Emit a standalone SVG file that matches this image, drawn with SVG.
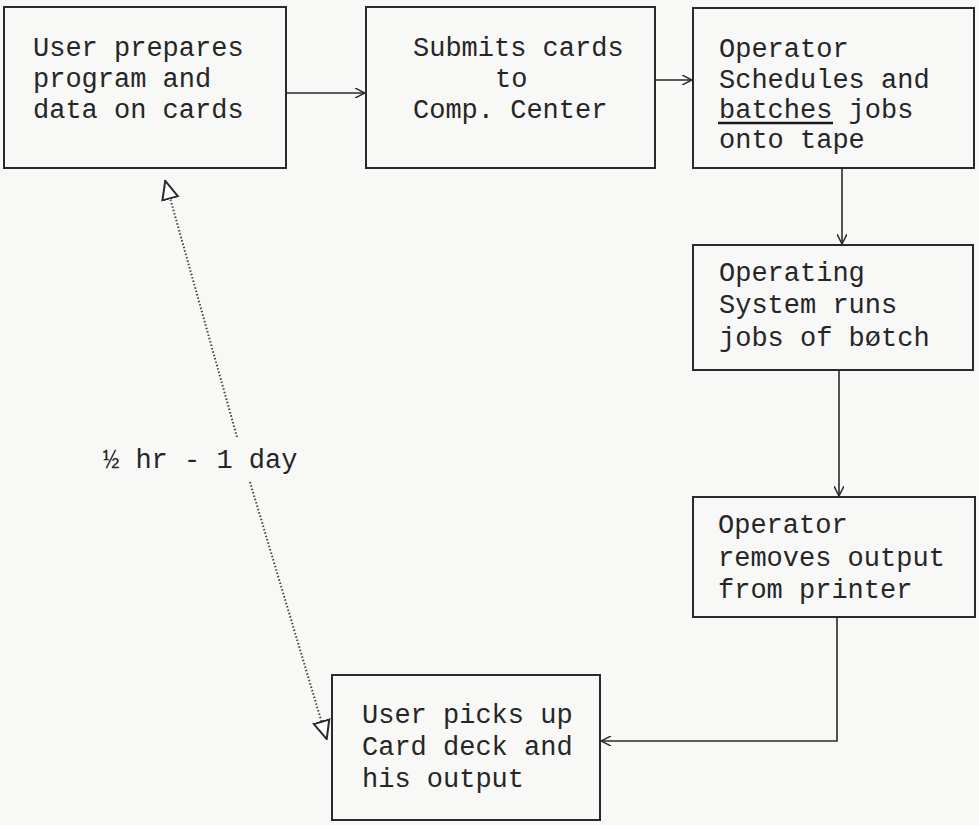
<svg xmlns="http://www.w3.org/2000/svg" width="979" height="825" viewBox="0 0 979 825">
<style>
.bg{fill:#f8f8f6}
.box{fill:none;stroke:#2a2a2a;stroke-width:2}
.t{font-family:"Liberation Mono","DejaVu Sans Mono",monospace;font-size:27px;fill:#262626}
.c{fill:none;stroke:#2a2a2a;stroke-width:1.6}
.dot{fill:none;stroke:#444;stroke-width:2;stroke-dasharray:1.5 2}
</style>
<defs>
<marker id="v" viewBox="0 0 10 10" refX="10" refY="5" markerWidth="10" markerHeight="10" markerUnits="userSpaceOnUse" orient="auto">
<path d="M0,0 L10,5 L0,10" fill="none" stroke="#2a2a2a" stroke-width="1.5"/>
</marker>
<marker id="tri" viewBox="0 0 20 20" refX="20" refY="10" markerWidth="20" markerHeight="20" markerUnits="userSpaceOnUse" orient="auto-start-reverse">
<path d="M1,2 L19,10 L1,18 Z" fill="#fff" stroke="#2a2a2a" stroke-width="2"/>
</marker>
</defs>
<rect class="bg" x="0" y="0" width="979" height="825"/>
<g id="n1">
<rect class="box" x="4" y="7" width="282" height="161"/>
<text class="t" x="33" y="56">User prepares</text>
<text class="t" x="33" y="87">program and</text>
<text class="t" x="33" y="118">data on cards</text>
</g>
<g id="n2">
<rect class="box" x="366" y="7" width="289" height="161"/>
<text class="t" x="413" y="56">Submits cards</text>
<text class="t" x="495" y="87">to</text>
<text class="t" x="413" y="118">Comp. Center</text>
</g>
<g id="n3">
<rect class="box" x="693" y="8" width="281" height="160"/>
<text class="t" x="719" y="57">Operator</text>
<text class="t" x="719" y="88">Schedules and</text>
<text class="t" x="719" y="118">batches jobs</text>
<line x1="718" y1="123" x2="833" y2="123" stroke="#1a1a1a" stroke-width="2.5"/>
<text class="t" x="719" y="148">onto tape</text>
</g>
<g id="n4">
<rect class="box" x="693" y="245" width="280" height="125"/>
<text class="t" x="719" y="281">Operating</text>
<text class="t" x="719" y="313">System runs</text>
<text class="t" x="719" y="346">jobs of bøtch</text>
</g>
<g id="n5">
<rect class="box" x="693" y="497" width="282" height="120"/>
<text class="t" x="718" y="533">Operator</text>
<text class="t" x="718" y="566">removes output</text>
<text class="t" x="718" y="598">from printer</text>
</g>
<g id="n6">
<rect class="box" x="332" y="675" width="268" height="145"/>
<text class="t" x="362" y="723">User picks up</text>
<text class="t" x="362" y="755">Card deck and</text>
<text class="t" x="362" y="787">his output</text>
</g>
<text class="t" x="103" y="468">½ hr - 1 day</text>
<g id="connectors">
<line class="c" x1="286" y1="93" x2="365" y2="93" marker-end="url(#v)"/>
<line class="c" x1="655" y1="80" x2="692" y2="80" marker-end="url(#v)"/>
<line class="c" x1="842" y1="168" x2="842" y2="244" marker-end="url(#v)"/>
<line class="c" x1="839" y1="370" x2="839" y2="496" marker-end="url(#v)"/>
<polyline class="c" points="837,617 837,741 601,741" marker-end="url(#v)"/>
<line class="dot" x1="237" y1="437" x2="165" y2="180" marker-end="url(#tri)"/>
<line class="dot" x1="250" y1="482" x2="327" y2="740" marker-end="url(#tri)"/>
</g>
</svg>
